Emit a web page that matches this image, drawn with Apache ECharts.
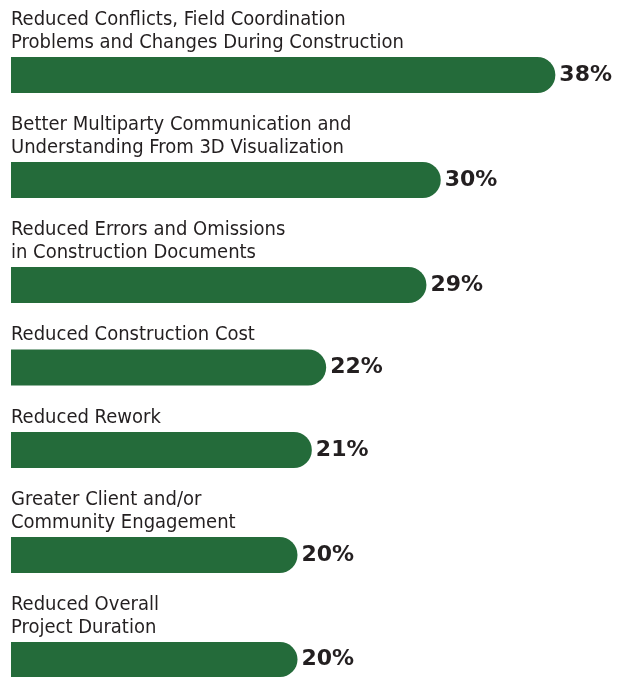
<!DOCTYPE html>
<html>
<head>
<meta charset="utf-8">
<script src="https://cdn.jsdelivr.net/npm/echarts@6/dist/echarts.min.js"></script>
<style>
  html, body { margin: 0; padding: 0; background: #fff; }
  #chart { width: 620px; height: 677px; }
</style>
</head>
<body>
<div id="chart"></div>
<script>
const categories = [
  'Reduced Conflicts, Field Coordination\nProblems and Changes During Construction',
  'Better Multiparty Communication and\nUnderstanding From 3D Visualization',
  'Reduced Errors and Omissions\nin Construction Documents',
  'Reduced Construction Cost',
  'Reduced Rework',
  'Greater Client and/or\nCommunity Engagement',
  'Reduced Overall\nProject Duration'
]
const values = [38, 30, 29, 22, 21, 20, 20]

const green = '#246b3a'
const lineH = 22.5
const barH = 36

const grids = []
const xAxes = []
const yAxes = []
const series = []

// stack blocks top to bottom: label lines, then the bar
let cursor = 0
categories.forEach((name, i) => {
  const lines = name.split('\n').length
  const top = cursor + 12 + lines * lineH
  cursor = top + barH + 12
  grids.push({ left: 11, right: 36, top: top, height: barH })
  xAxes.push({ gridIndex: i, type: 'value', min: 0, max: 40, show: false })
  yAxes.push({
    gridIndex: i,
    type: 'category',
    data: [name],
    axisLine: { show: false },
    axisTick: { show: false },
    axisLabel: { show: false },
    name: name,
    nameLocation: 'end',
    nameGap: 3,
    nameTextStyle: {
      align: 'left',
      verticalAlign: 'bottom',
      fontFamily: 'DejaVu Sans Condensed, sans-serif',
      fontSize: 20,
      lineHeight: lineH,
      color: '#231f20'
    }
  })
  series.push({
    type: 'bar',
    xAxisIndex: i,
    yAxisIndex: i,
    data: [values[i]],
    barWidth: barH,
    itemStyle: { color: green, borderRadius: [0, 18, 18, 0] },
    label: {
      show: true,
      position: 'right',
      distance: 4,
      formatter: '{c}%',
      fontFamily: 'DejaVu Sans, sans-serif',
      fontWeight: 'bold',
      fontSize: 22,
      color: '#231f20'
    },
    silent: true
  })
})

const myChart = echarts.init(document.getElementById('chart'))
myChart.setOption({
  animation: false,
  grid: grids,
  xAxis: xAxes,
  yAxis: yAxes,
  series: series
})
</script>
</body>
</html>
